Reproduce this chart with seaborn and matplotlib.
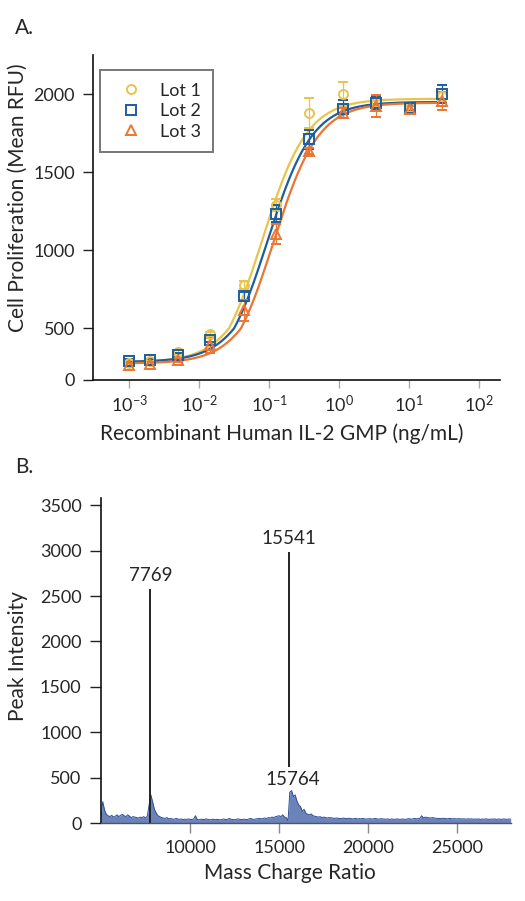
import numpy as np
import pandas as pd
import matplotlib
matplotlib.use("Agg")
import matplotlib.pyplot as plt
from matplotlib.lines import Line2D
import seaborn as sns

# ---- Panel A data: IL-2 bioassay, three lots ----
conc = [0.001, 0.002, 0.005, 0.0143, 0.043, 0.127, 0.37, 1.15, 3.4, 10.2, 30]
lot1 = [165, 180, 275, 450, 780, 1290, 1880, 2000, 1950, 1915, 1985]
lot2 = [185, 190, 245, 390, 710, 1235, 1710, 1905, 1945, 1910, 2000]
lot3 = [150, 160, 190, 335, 615, 1105, 1635, 1880, 1925, 1905, 1955]
err1 = [15, 15, 20, 20, 25, 40, 95, 75, 30, 20, 30]
err2 = [15, 15, 20, 20, 25, 55, 60, 55, 40, 20, 60]
err3 = [15, 15, 20, 70, 70, 65, 20, 30, 70, 20, 60]
lot_names = ["Lot 1", "Lot 2", "Lot 3"]
# 4PL fit parameters: bottom, top, EC50, hill
fit_bottom = [170, 175, 160]
fit_top = [1970, 1950, 1945]
fit_ec50 = [0.080, 0.095, 0.115]
fit_hill = [1.35, 1.35, 1.35]

# ---- Panel B data: mass spectrum ----
ms_start, ms_step = 5000, 100
ms_intensity = [
    60, 235, 140, 95, 80, 70, 85, 65, 75, 90,
    70, 85, 95, 80, 70, 90, 75, 60, 70, 65,
    60, 55, 65, 60, 70, 55, 75, 200, 310, 230,
    150, 110, 80, 70, 60, 55, 50, 60, 45, 50,
    45, 40, 50, 45, 40, 45, 38, 42, 40, 45,
    40, 38, 45, 80, 40, 35, 42, 40, 38, 45,
    40, 35, 38, 42, 36, 40, 38, 35, 40, 45,
    38, 40, 50, 42, 38, 36, 40, 45, 40, 38,
    42, 40, 38, 45, 50, 42, 40, 45, 48, 50,
    45, 50, 55, 50, 60, 55, 65, 60, 70, 75,
    80, 70, 90, 65, 60, 25, 340, 357, 290, 310,
    240, 200, 180, 130, 150, 110, 95, 90, 100, 80,
    75, 70, 65, 70, 60, 65, 60, 55, 60, 58,
    55, 50, 55, 52, 50, 48, 55, 50, 48, 52,
    50, 45, 48, 50, 45, 48, 46, 50, 45, 44,
    45, 48, 44, 46, 50, 45, 42, 48, 45, 44,
    42, 45, 40, 44, 42, 40, 45, 42, 40, 44,
    42, 40, 45, 48, 42, 45, 50, 46, 48, 52,
    80, 55, 65, 60, 58, 55, 60, 55, 52, 50,
    50, 48, 52, 50, 46, 48, 50, 45, 48, 46,
    45, 48, 44, 46, 45, 42, 46, 44, 45, 42,
    44, 42, 45, 40, 44, 42, 45, 43, 40, 44,
    42, 45, 40, 44, 42, 40, 45, 42, 40, 44,
    42,
]
peak_mz = [7769, 15541]
peak_height = [2575, 2980]
minor_label_mz = 15764
minor_label_y = 475
minor_line_bottom = 620

colors = ["#E9C44C", "#1E5E9C", "#EA7534"]
markers = ["o", "s", "^"]
spec_color = "#2D4E9C"

sns.set_style("ticks")
plt.rcParams["font.family"] = ["Lato", "DejaVu Sans"]
plt.rcParams["mathtext.default"] = "regular"

fig = plt.figure(figsize=(5.25, 9.01), dpi=100)
W, H = 525, 901
ax_a = fig.add_axes([93 / W, 1 - 380 / H, (500 - 93) / W, (380 - 55) / H])
ax_b = fig.add_axes([101 / W, 1 - 823 / H, (510.7 - 101) / W, (823 - 498) / H])

# y axis of panel A is compressed below 500
r = 0.66


def fwd(v):
    v = np.asarray(v, dtype=float)
    return np.where(v < 500, v * r, 500 * r + (v - 500))


def inv(u):
    u = np.asarray(u, dtype=float)
    return np.where(u < 500 * r, u / r, u - 500 * r + 500)


ax_a.set_xscale("log")
ax_a.set_yscale("function", functions=(fwd, inv))

rows = []
for name, ys, es in zip(lot_names, [lot1, lot2, lot3], [err1, err2, err3]):
    for c, y, e in zip(conc, ys, es):
        rows.append({"lot": name, "conc": c, "rfu": y, "err": e})
df = pd.DataFrame(rows)

xs = np.logspace(np.log10(conc[0]), np.log10(conc[-1]), 300)
curves = []
for i, name in enumerate(lot_names):
    yfit = fit_bottom[i] + (fit_top[i] - fit_bottom[i]) / (1 + (fit_ec50[i] / xs) ** fit_hill[i])
    curves.append(pd.DataFrame({"lot": name, "conc": xs, "rfu": yfit}))
curve_df = pd.concat(curves)

sns.lineplot(data=curve_df, x="conc", y="rfu", hue="lot", palette=colors,
             linewidth=1.6, legend=False, ax=ax_a, zorder=2)

for i, name in enumerate(lot_names):
    sub = df[df["lot"] == name]
    ax_a.errorbar(sub["conc"], sub["rfu"], yerr=sub["err"], fmt=markers[i],
                  color=colors[i], mfc="none", mec=colors[i], ms=6.5, mew=1.4,
                  elinewidth=0.9, capsize=3.5, capthick=0.9, zorder=3)

ax_a.set_xlim(10 ** -3.52, 10 ** 2.3)
ax_a.set_ylim(0, 2250)
ax_a.set_yticks([0, 500, 1000, 1500, 2000])
ax_a.set_xticks([1e-3, 1e-2, 1e-1, 1e0, 1e1, 1e2])
ax_a.set_xticklabels([r"$10^{-3}$", r"$10^{-2}$", r"$10^{-1}$", r"$10^{0}$", r"$10^{1}$", r"$10^{2}$"])
ax_a.minorticks_off()
ax_a.tick_params(axis="y", length=7, width=1.0, color="#222222", labelsize=13, pad=6)
ax_a.tick_params(axis="x", length=6, width=1.0, color="#aaaaaa", labelsize=13, pad=4)
ax_a.set_xlabel("Recombinant Human IL-2 GMP (ng/mL)", fontsize=15)
ax_a.set_ylabel("Cell Proliferation (Mean RFU)", fontsize=15)
ax_a.xaxis.set_label_coords(0.464, -0.135)
ax_a.yaxis.set_label_coords(-0.16, 0.56)
for s in ["top", "right"]:
    ax_a.spines[s].set_visible(False)
for s in ["left", "bottom"]:
    ax_a.spines[s].set_linewidth(1.2)
    ax_a.spines[s].set_color("#111111")

handles = [Line2D([], [], linestyle="none", marker=markers[i], mfc="none", mec=colors[i],
                  ms=6.5, mew=1.4, label=lot_names[i]) for i in range(3)]
leg = ax_a.legend(handles=handles, loc="upper left", bbox_to_anchor=(0.017, 0.954),
                  borderaxespad=0, frameon=True, fancybox=False, fontsize=13,
                  handletextpad=0.6, labelspacing=0.25, borderpad=0.7)
leg.get_frame().set_edgecolor("#555555")
leg.get_frame().set_linewidth(1.4)

# ---- Panel B ----
mz = ms_start + ms_step * np.arange(len(ms_intensity))
spec = pd.DataFrame({"mz": mz, "intensity": ms_intensity})
ax_b.fill_between(spec["mz"], 0, spec["intensity"], color=spec_color, alpha=0.7, lw=0)
sns.lineplot(data=spec, x="mz", y="intensity", color=spec_color, linewidth=0.7, ax=ax_b)

ax_b.vlines(peak_mz[0], 0, peak_height[0], color="#222222", lw=1.4)
ax_b.vlines(peak_mz[1], minor_line_bottom, peak_height[1], color="#222222", lw=1.4)
for m, h in zip(peak_mz, peak_height):
    ax_b.text(m, h + 60, str(m), ha="center", va="bottom", fontsize=13.5)
ax_b.text(minor_label_mz, minor_label_y, str(minor_label_mz), ha="center", va="center", fontsize=13.5)

ax_b.set_xlim(5000, 28000)
ax_b.set_ylim(0, 3580)
ax_b.set_xticks([10000, 15000, 20000, 25000])
ax_b.set_yticks(range(0, 3501, 500))
ax_b.tick_params(axis="y", length=8, width=1.0, color="#222222", labelsize=13, pad=6)
ax_b.tick_params(axis="x", length=7, width=1.0, color="#888888", labelsize=13, pad=5)
ax_b.set_xlabel("Mass Charge Ratio", fontsize=15)
ax_b.set_ylabel("Peak Intensity", fontsize=15)
ax_b.xaxis.set_label_coords(0.461, -0.123)
ax_b.yaxis.set_label_coords(-0.178, 0.515)
for s in ["top", "right"]:
    ax_b.spines[s].set_visible(False)
ax_b.spines["left"].set_linewidth(1.2)
ax_b.spines["left"].set_color("#111111")
ax_b.spines["bottom"].set_linewidth(1.0)
ax_b.spines["bottom"].set_color("#555555")

fig.text(15 / W, 1 - 28 / H, "A.", fontsize=15, va="center", ha="left")
fig.text(15 / W, 1 - 467 / H, "B.", fontsize=15, va="center", ha="left")

fig.savefig("out.png", dpi=100)
